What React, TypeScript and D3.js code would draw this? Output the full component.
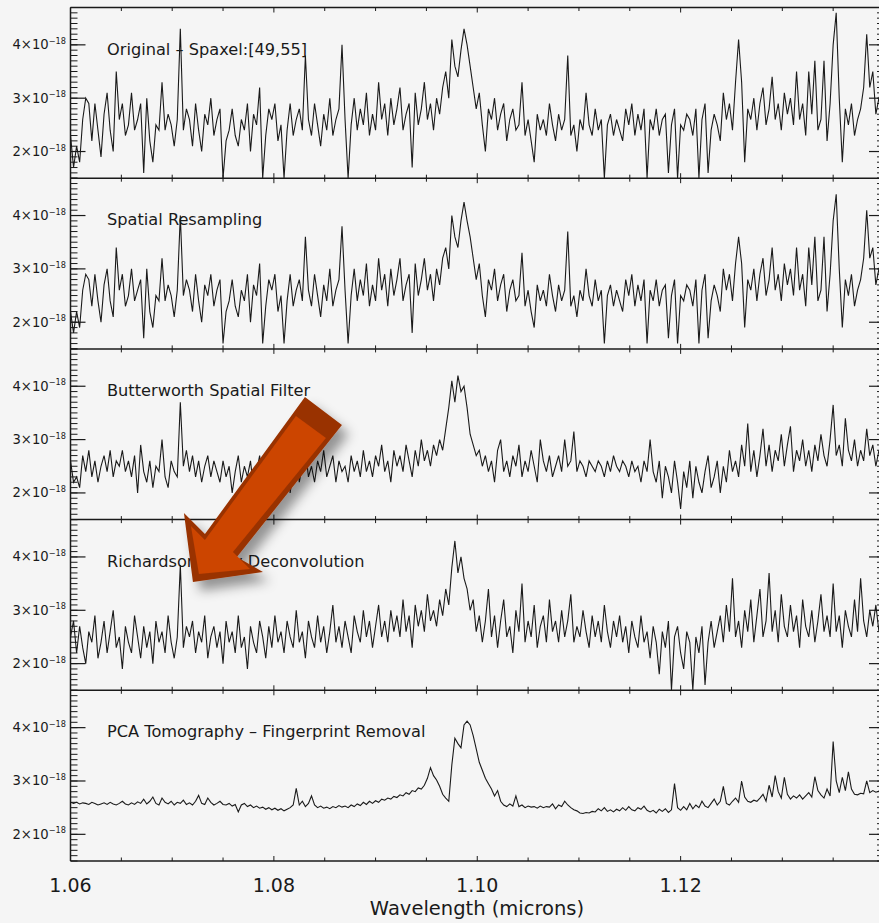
import React from "react";
import * as d3 from "d3";

const WIDTH = 879;
const HEIGHT = 923;

// spectra sampled on a regular wavelength grid (microns), flux in units of 1e-18
const wavelengthStart = 1.06;
const wavelengthStep = 0.0003;

const panelTitles = [
  "Original \u2013 Spaxel:[49,55]",
  "Spatial Resampling",
  "Butterworth Spatial Filter",
  "Richardson\u2013Lucy Deconvolution",
  "PCA Tomography \u2013 Fingerprint Removal",
];

const original = [
  2.3, 1.7, 2.1, 1.8, 2.6, 3.0, 2.9, 2.2, 2.9, 2.4,
  1.9, 2.7, 3.1, 2.4, 2.0, 3.5, 2.6, 2.9, 2.3, 2.5,
  3.1, 2.4, 2.6, 2.9, 1.6, 3.0, 2.2, 1.8, 2.5, 2.4,
  3.3, 2.4, 2.7, 2.5, 2.1, 2.6, 4.3, 2.4, 2.8, 2.6,
  2.1, 2.9, 2.4, 2.0, 2.7, 2.5, 3.0, 2.3, 2.6, 2.8,
  1.5, 2.2, 2.4, 2.8, 2.3, 2.1, 2.6, 2.4, 2.9, 2.0,
  2.7, 2.5, 3.2, 1.5, 2.3, 2.8, 2.6, 2.9, 2.2, 2.5,
  1.5, 2.4, 2.9, 2.3, 2.6, 2.8, 2.4, 3.8, 2.6, 2.3,
  2.9, 2.5, 2.1, 2.7, 2.4, 3.0, 2.3, 2.6, 2.8, 4.0,
  2.6, 1.5, 2.5, 3.0, 2.4, 2.8, 2.5, 3.1, 2.3, 2.7,
  2.4, 3.3, 2.6, 2.9, 2.3, 3.0, 2.5, 2.8, 3.2, 2.4,
  2.7, 2.9, 1.7, 3.1, 2.5, 2.8, 3.3, 2.6, 2.9, 2.4,
  3.0, 2.7, 3.2, 3.5, 3.0, 4.1, 3.6, 3.4, 3.9, 4.3,
  4.0, 3.6, 3.2, 2.8, 3.1, 2.5, 2.0, 2.8, 2.6, 3.0,
  2.4, 2.7, 2.9, 2.2, 2.6, 2.8, 2.4, 2.5, 3.3, 2.3,
  2.6, 2.2, 1.8, 2.7, 2.4, 2.6, 2.3, 2.9, 2.5, 2.2,
  2.7, 2.4, 2.6, 3.8, 2.3, 2.5, 2.0, 2.6, 2.4, 3.1,
  2.5, 2.3, 2.8, 2.4, 2.6, 1.5, 2.5, 2.7, 2.3, 2.6,
  2.4, 2.2, 2.8, 2.5, 2.9, 2.3, 2.7, 2.4, 2.8, 1.5,
  2.6, 2.4, 2.8, 2.3, 2.6, 2.7, 1.6, 2.5, 2.8, 1.5,
  2.5, 2.4, 2.7, 2.6, 2.3, 2.8, 1.5, 2.6, 2.9, 1.6,
  2.4, 2.7, 2.5, 2.2, 3.1, 2.6, 2.9, 2.4, 3.3, 4.1,
  3.3, 1.8, 2.8, 2.6, 3.0, 2.4, 2.9, 3.2, 2.5, 2.8,
  3.4, 2.6, 2.9, 2.4, 3.1, 2.7, 3.0, 2.5, 3.5, 2.6,
  2.9, 2.3, 3.5, 2.7, 3.7, 2.4, 2.6, 3.7, 2.2, 2.9,
  4.0, 4.6, 3.0, 1.8, 2.8, 2.5, 2.9, 2.3, 2.6, 2.8,
  3.2, 4.2, 3.2, 3.5, 2.7, 3.0, 2.9,
];

const spatialResampling = [
  2.2, 1.8, 2.2, 1.9, 2.6, 2.9, 2.8, 2.3, 2.9, 2.4,
  2.0, 2.7, 3.0, 2.4, 2.1, 3.4, 2.6, 2.9, 2.3, 2.5,
  3.0, 2.4, 2.6, 2.8, 1.7, 3.0, 2.2, 1.9, 2.5, 2.4,
  3.2, 2.4, 2.7, 2.5, 2.1, 2.6, 4.0, 2.5, 2.8, 2.6,
  2.2, 2.9, 2.4, 2.0, 2.7, 2.5, 2.9, 2.3, 2.6, 2.8,
  1.6, 2.2, 2.4, 2.8, 2.3, 2.1, 2.6, 2.4, 2.9, 2.0,
  2.7, 2.5, 3.1, 1.6, 2.3, 2.8, 2.6, 2.9, 2.2, 2.5,
  1.6, 2.4, 2.9, 2.3, 2.6, 2.8, 2.4, 3.6, 2.6, 2.3,
  2.9, 2.5, 2.1, 2.7, 2.4, 3.0, 2.3, 2.6, 2.8, 3.8,
  2.6, 1.6, 2.5, 3.0, 2.4, 2.8, 2.5, 3.1, 2.3, 2.7,
  2.4, 3.2, 2.6, 2.9, 2.3, 3.0, 2.5, 2.8, 3.2, 2.4,
  2.7, 2.9, 1.8, 3.1, 2.5, 2.8, 3.2, 2.6, 2.9, 2.4,
  3.0, 2.7, 3.2, 3.4, 3.0, 4.0, 3.6, 3.4, 3.9, 4.25,
  3.9, 3.6, 3.2, 2.8, 3.1, 2.5, 2.1, 2.8, 2.6, 3.0,
  2.4, 2.7, 2.9, 2.2, 2.6, 2.8, 2.4, 2.5, 3.3, 2.3,
  2.6, 2.2, 1.9, 2.7, 2.4, 2.6, 2.3, 2.9, 2.5, 2.2,
  2.7, 2.4, 2.6, 3.7, 2.3, 2.5, 2.1, 2.6, 2.4, 3.0,
  2.5, 2.3, 2.8, 2.4, 2.6, 1.6, 2.5, 2.7, 2.3, 2.6,
  2.4, 2.2, 2.8, 2.5, 2.9, 2.3, 2.7, 2.4, 2.8, 1.6,
  2.6, 2.4, 2.8, 2.3, 2.6, 2.7, 1.7, 2.5, 2.8, 1.6,
  2.5, 2.4, 2.7, 2.6, 2.3, 2.8, 1.6, 2.6, 2.9, 1.7,
  2.4, 2.7, 2.5, 2.2, 3.0, 2.6, 2.9, 2.4, 3.1, 3.6,
  3.1, 1.9, 2.8, 2.6, 3.0, 2.4, 2.9, 3.2, 2.5, 2.8,
  3.4, 2.6, 2.9, 2.4, 3.1, 2.7, 3.0, 2.5, 3.4, 2.6,
  2.9, 2.3, 3.4, 2.7, 3.6, 2.4, 2.6, 3.6, 2.2, 2.9,
  3.9, 4.4, 3.0, 1.9, 2.8, 2.5, 2.9, 2.3, 2.6, 2.8,
  3.2, 4.1, 3.2, 3.4, 2.7, 3.0, 2.9,
];

const butterworth = [
  2.6, 2.2, 2.3, 2.1, 2.7, 2.4, 2.8, 2.3, 2.6, 2.2,
  2.5, 2.7, 2.4, 2.8, 2.3, 2.6, 2.5, 2.8, 2.4, 2.6,
  2.3, 2.7, 2.0, 2.9, 2.4, 2.2, 2.6, 2.1, 2.5, 2.4,
  3.0, 2.3, 2.1, 2.6, 2.4, 2.3, 3.7, 2.5, 2.8, 2.4,
  2.7, 2.3, 2.6, 2.2, 2.5, 2.7, 2.3, 2.6, 2.4, 2.2,
  2.6, 2.3, 2.5, 2.0, 2.4, 2.7, 2.2, 2.5, 2.3, 2.6,
  2.1, 2.4, 2.7, 2.2, 2.5, 2.3, 2.6, 2.4, 2.2, 2.5,
  2.3, 2.6, 2.0, 2.4, 2.7, 2.2, 2.5, 2.8, 2.3, 2.5,
  2.2, 2.6, 2.4, 2.8, 2.3, 2.5, 2.7, 2.2, 2.6, 2.4,
  2.5, 2.2, 2.7, 2.4, 2.6, 2.3, 2.8, 2.4, 2.6, 2.3,
  2.7, 2.5, 2.9, 2.4, 2.6, 2.2, 2.8, 2.5, 2.7, 2.4,
  2.9, 2.6, 2.3, 2.8, 2.5, 3.0, 2.6, 2.8, 2.5, 2.9,
  2.7, 3.0, 2.8, 3.2, 3.6, 4.1, 3.7, 4.2, 3.9, 4.0,
  3.6, 3.1, 2.9, 2.7, 2.8, 2.5, 2.7, 2.4, 2.6, 2.2,
  2.8, 3.0, 2.4, 2.6, 2.3, 2.7, 2.5, 2.9, 2.3, 2.6,
  2.4, 2.8, 2.5, 2.2, 3.0, 2.6, 2.4, 2.7, 2.3, 2.5,
  2.7, 2.4, 3.0, 2.5, 2.6, 3.15, 2.4, 2.6, 2.5, 2.3,
  2.6, 2.5, 2.4, 2.6, 2.5, 2.3, 2.6, 2.4, 2.7, 2.5,
  2.4, 2.6, 2.5, 2.3, 2.6, 2.4, 2.5, 2.2, 2.6, 2.4,
  3.0, 2.4, 2.2, 2.6, 1.9, 2.5, 2.3, 2.0, 2.6, 2.2,
  1.7, 2.4, 2.1, 2.6, 1.9, 2.5, 2.2, 2.0, 2.4, 2.7,
  2.1, 2.3, 2.6, 2.0, 2.5, 2.2, 2.8, 2.4, 2.6, 2.3,
  2.9, 2.5, 3.3, 2.4, 2.8, 2.3, 2.7, 3.2, 2.5, 2.9,
  2.4, 2.8, 2.6, 3.1, 2.5, 2.9, 3.25, 2.4, 2.8, 2.6,
  3.0, 2.5, 2.8, 2.4, 2.9, 2.6, 3.1, 2.7, 2.5, 3.0,
  3.65, 2.7, 2.9, 2.5, 3.4, 2.8, 2.6, 3.0, 2.5, 2.8,
  2.6, 3.2, 2.7, 2.9, 2.5, 2.8, 2.6,
];

const richardsonLucy = [
  2.5, 2.8, 2.2, 2.7, 2.3, 2.0, 2.6, 2.4, 2.9, 2.1,
  2.4, 2.8, 2.2, 2.6, 3.0, 2.3, 2.5, 1.9, 2.7, 2.4,
  2.2, 2.9, 2.5, 2.1, 2.7, 2.3, 2.6, 2.0, 2.8, 2.4,
  2.6, 2.2, 2.9, 2.4, 2.1, 2.5, 3.85, 2.3, 2.7, 2.5,
  2.8, 2.2, 2.6, 2.4, 2.9, 2.1, 2.5, 2.7, 2.3, 2.6,
  2.0, 2.8, 2.4, 2.6, 2.2, 2.9, 2.3, 2.5, 1.9, 2.7,
  2.4, 2.2, 2.8, 2.5, 2.1, 2.7, 2.3, 2.9, 2.4, 2.6,
  2.2, 2.8, 2.5, 2.3, 3.0, 2.4, 2.6, 2.1, 2.8, 2.5,
  2.3, 2.9, 2.4, 2.7, 2.2, 2.6, 3.1, 2.4, 2.7, 2.3,
  2.8, 2.5, 2.2, 2.9, 2.6, 2.4, 3.0, 2.5, 2.8, 2.3,
  2.7, 3.1, 2.5, 2.8, 2.4, 3.0, 2.6, 2.9, 2.5, 3.2,
  2.6, 2.9, 2.3, 3.1, 2.7, 3.0, 2.6, 3.3, 2.8, 3.0,
  2.7, 3.2, 2.9, 3.4, 3.1, 3.8, 4.3, 3.7, 4.0, 3.6,
  3.4, 3.0, 3.2, 2.6, 2.9, 2.4, 2.8, 3.4, 2.5, 2.9,
  2.3, 2.8, 3.2, 2.5, 2.7, 2.2, 3.0, 2.6, 3.5, 2.4,
  2.8, 2.5, 3.1, 2.3, 2.7, 2.9, 2.4, 3.2, 2.6, 2.8,
  2.4, 3.0, 2.5, 2.8, 3.3, 2.4, 2.7, 2.5, 3.0, 2.6,
  2.3, 2.9, 2.5, 2.8, 2.4, 3.1, 2.6, 2.3, 2.8, 2.5,
  2.9, 2.4, 2.7, 2.2, 2.8, 2.5, 2.3, 2.9, 2.4, 2.6,
  2.1, 2.7, 2.4, 1.8, 2.6, 2.3, 2.8, 1.5, 2.5, 2.7,
  2.2, 1.9, 2.6, 2.4, 1.5, 2.5, 2.2, 2.7, 1.6, 2.4,
  2.8, 2.3, 2.6, 2.9, 2.4, 3.1, 2.6, 3.6, 2.5, 2.8,
  2.3, 3.0, 2.6, 3.2, 2.4, 2.9, 3.4, 2.5, 2.8, 3.7,
  2.6, 3.0, 2.4, 3.3, 2.7, 2.5, 3.1, 2.6, 2.9, 2.3,
  3.2, 2.7, 2.5, 3.0, 2.4, 2.8, 3.3, 2.6, 2.9, 2.5,
  3.5, 2.6, 2.9, 2.3, 3.0, 2.7, 2.5, 3.2, 2.6, 3.6,
  2.8, 2.5, 3.0, 2.7, 3.1, 2.6, 2.9,
];

const pcaTomography = [
  2.60, 2.58, 2.60, 2.57, 2.59, 2.58, 2.56, 2.60, 2.58, 2.55,
  2.57, 2.59, 2.56, 2.60, 2.57, 2.55, 2.58, 2.62, 2.57, 2.55,
  2.59, 2.56, 2.61, 2.58, 2.66, 2.57, 2.62, 2.70, 2.58, 2.55,
  2.68, 2.60, 2.57, 2.62, 2.55, 2.60, 2.58, 2.64, 2.56, 2.59,
  2.55, 2.62, 2.73, 2.58, 2.56, 2.68, 2.60, 2.55, 2.58, 2.62,
  2.56, 2.55, 2.58, 2.53, 2.56, 2.42, 2.55, 2.58, 2.52, 2.55,
  2.50, 2.53, 2.49, 2.51, 2.47, 2.50, 2.46, 2.49, 2.45, 2.48,
  2.44, 2.47, 2.50, 2.55, 2.86, 2.55, 2.62, 2.52, 2.58, 2.72,
  2.55, 2.50, 2.53, 2.49, 2.51, 2.48, 2.52, 2.50, 2.54, 2.51,
  2.53, 2.50, 2.55, 2.52, 2.57, 2.54, 2.60, 2.56, 2.62, 2.58,
  2.63, 2.60, 2.66, 2.64, 2.68, 2.66, 2.71, 2.69, 2.74, 2.72,
  2.78, 2.75, 2.82, 2.80, 2.87, 2.85, 2.92, 3.05, 3.25, 3.10,
  3.02, 2.90, 2.75, 2.68, 2.62, 3.30, 3.80, 3.70, 3.62, 4.05,
  4.12, 4.05, 3.85, 3.60, 3.35, 3.20, 3.05, 2.95, 2.85, 2.72,
  2.82, 2.62, 2.55, 2.52, 2.57, 2.53, 2.72, 2.52, 2.55, 2.50,
  2.53, 2.51, 2.52, 2.49, 2.53, 2.50, 2.52, 2.51, 2.57, 2.48,
  2.55, 2.52, 2.62, 2.55, 2.50, 2.46, 2.44, 2.40, 2.39, 2.41,
  2.40, 2.43, 2.42, 2.48, 2.44, 2.50, 2.43, 2.46, 2.42, 2.47,
  2.44, 2.50, 2.45, 2.52, 2.46, 2.44, 2.50, 2.47, 2.53, 2.45,
  2.42, 2.45, 2.40, 2.47, 2.43, 2.48, 2.41, 2.46, 2.95, 2.50,
  2.45, 2.52, 2.46, 2.58, 2.48, 2.55, 2.50, 2.62, 2.53, 2.50,
  2.58, 2.66, 2.55, 2.62, 2.90, 2.58, 2.55, 2.62, 2.68, 2.60,
  3.00, 2.70, 2.62, 2.60, 2.64, 2.62, 2.68, 2.75, 2.62, 2.92,
  2.70, 3.10, 2.80, 2.68, 3.07, 2.75, 2.66, 2.72, 2.68, 2.74,
  2.66, 2.72, 2.78, 2.70, 3.08, 2.82, 2.74, 2.68, 2.85, 2.72,
  3.74, 3.00, 2.78, 3.07, 2.82, 3.17, 2.85, 2.75, 2.74, 2.77,
  2.76, 3.00, 2.78, 2.82, 2.79, 2.81, 2.80,
];

const panelSeries = [original, spatialResampling, butterworth, richardsonLucy, pcaTomography];

const xMajorTicks = [1.06, 1.08, 1.1, 1.12, 1.14];
const xTickLabels = ["1.06", "1.08", "1.10", "1.12"];
const yMajorTicks = [2, 3, 4];
const yTickLabels = ["2\u00d710", "3\u00d710", "4\u00d710"];
const yExponent = "\u221218";

const FONT = "'DejaVu Sans', sans-serif";
const INK = "#1a1a1a";

const left = 70.5;
const right = 884;
const top = 7.5;
const panelH = 170.7;

const x = d3.scaleLinear().domain([1.06, 1.14]).range([left, right]);
const xMinor = d3.range(1.06, 1.1401, 0.005);
const yMinor = d3.range(1.5, 4.701, 0.1);

// annotation arrow, offsets in px from its tip
const arrowTip = { wavelength: 1.07204, flux: 3.53, panel: 3 };
const arrowOuter = [[112, -185], [149, -157], [44, -25], [70, -10], [0, 0], [-9, -69], [12, -48]];
const arrowInner = [[103, -166], [133, -144], [40, -30], [57, -13], [6, -8], [-2, -56], [12, -42]];

export default function App() {
  const line = d3.line<number>().curve(d3.curveLinear);

  const panels = panelSeries.map((flux, p) => {
    const y0 = top + p * panelH;
    const y = d3.scaleLinear().domain([1.5, 4.7]).range([y0 + panelH, y0]);
    const pts = flux.map((v, i) => [x(wavelengthStart + i * wavelengthStep), y(v)] as [number, number]);
    return { y0, y, path: line(pts) || "", title: panelTitles[p] };
  });

  const tipY = panels[arrowTip.panel].y(arrowTip.flux);
  const tipX = x(arrowTip.wavelength);
  const toPts = (arr: number[][]) => arr.map(([dx, dy]) => `${tipX + dx},${tipY + dy}`).join(" ");

  return (
    <div style={{ position: "absolute", left: 0, top: 0 }}>
      <svg width={WIDTH} height={HEIGHT} style={{ display: "block", background: "#f5f5f5" }}>
        <defs>
          {panels.map((pn, p) => (
            <clipPath id={`clip${p}`} key={p}>
              <rect x={left} y={pn.y0} width={right - left} height={panelH} />
            </clipPath>
          ))}
          <filter id="shadow" x="-30%" y="-30%" width="160%" height="160%">
            <feDropShadow dx="7" dy="9" stdDeviation="6" floodColor="#000" floodOpacity="0.4" />
          </filter>
        </defs>

        {panels.map((pn, p) => (
          <g key={p}>
            <path d={pn.path} fill="none" stroke={INK} strokeWidth={1.1} clipPath={`url(#clip${p})`} />
            {/* y ticks left and right */}
            {yMinor.map((v, k) => (
              <g key={k}>
                <line x1={left} x2={left + 7} y1={pn.y(v)} y2={pn.y(v)} stroke={INK} strokeWidth={1} />
                <line x1={right} x2={right - 7} y1={pn.y(v)} y2={pn.y(v)} stroke={INK} strokeWidth={1} />
              </g>
            ))}
            {yMajorTicks.map((v, k) => (
              <g key={k}>
                <line x1={left} x2={left + 15} y1={pn.y(v)} y2={pn.y(v)} stroke={INK} strokeWidth={1.2} />
                <line x1={right} x2={right - 15} y1={pn.y(v)} y2={pn.y(v)} stroke={INK} strokeWidth={1.2} />
                <text x={66} y={pn.y(v) + 4.5} textAnchor="end" fontFamily={FONT} fontSize={13.2} fill={INK}>
                  <tspan>{yTickLabels[k]}</tspan>
                  <tspan dy={-5.5} fontSize={8.2}>{yExponent}</tspan>
                </text>
              </g>
            ))}
            {/* x ticks top and bottom of panel */}
            {xMinor.map((w, k) => {
              const major = xMajorTicks.some((m) => Math.abs(m - w) < 1e-6);
              const len = major ? 5 : 3.5;
              return (
                <g key={k}>
                  <line x1={x(w)} x2={x(w)} y1={pn.y0} y2={pn.y0 + len} stroke={INK} strokeWidth={1} />
                  <line x1={x(w)} x2={x(w)} y1={pn.y0 + panelH} y2={pn.y0 + panelH - len} stroke={INK} strokeWidth={1} />
                </g>
              );
            })}
            <line x1={left} x2={right} y1={pn.y0} y2={pn.y0} stroke={INK} strokeWidth={1.5} />
            <text x={107} y={pn.y0 + 47} fontFamily={FONT} fontSize={16.2} fill={INK}>
              {pn.title}
            </text>
          </g>
        ))}

        {/* frame */}
        <line x1={left} x2={left} y1={top} y2={top + 5 * panelH} stroke={INK} strokeWidth={1.5} />
        <line x1={right} x2={right} y1={top} y2={top + 5 * panelH} stroke={INK} strokeWidth={1.5} />
        <line x1={left} x2={right} y1={top + 5 * panelH} y2={top + 5 * panelH} stroke={INK} strokeWidth={1.5} />

        {xTickLabels.map((lab, k) => (
          <text key={lab} x={x(xMajorTicks[k])} y={891.5} textAnchor="middle" fontFamily={FONT} fontSize={19} fill={INK}>
            {lab}
          </text>
        ))}
        <text x={477} y={915} textAnchor="middle" fontFamily={FONT} fontSize={19.5} fill={INK}>
          Wavelength (microns)
        </text>

        {/* arrow annotation */}
        <g filter="url(#shadow)">
          <polygon points={toPts(arrowOuter)} fill="#993300" strokeLinejoin="miter" />
          <polygon points={toPts(arrowInner)} fill="#cc4402" />
        </g>
      </svg>
    </div>
  );
}
